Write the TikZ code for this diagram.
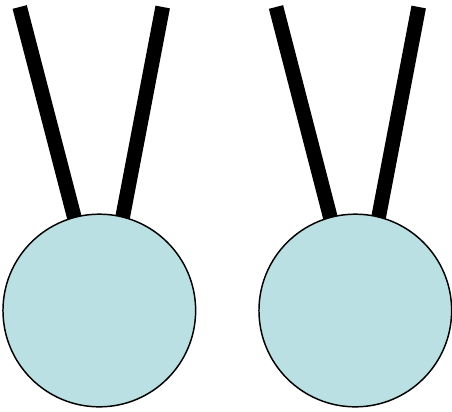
\documentclass[tikz,border=0pt]{standalone}
\usepackage{tikz}
\usetikzlibrary{backgrounds}
\definecolor{c1}{HTML}{BBE0E3}

\begin{document}
\begin{tikzpicture}[
    x=0.75pt, y=-0.75pt,
    ball/.style={circle, draw=black, line width=1.1pt, fill=c1, minimum size=144.5pt, inner sep=0pt},
    leaf/.style={line width=11pt, black, line cap=butt, shorten >=-8pt},
]
\useasboundingbox (0,0) rectangle (452,411);

% === BALLS with two leaves each ===
\foreach \i/\x/\xa/\xb in {1/99.3/19.7/162.7, 2/355.3/276/418.7}{
    % Ball
    \node[ball] (b\i) at (\x, 310.5) {};
    % Free ends at the top
    \coordinate (tl\i) at (\xa, 7);
    \coordinate (tr\i) at (\xb, 7);
    % Leaves behind the ball
    \begin{scope}[on background layer]
        \draw[leaf] (tl\i) -- (b\i.105);
        \draw[leaf] (tr\i) -- (b\i.76);
    \end{scope}
}

\end{tikzpicture}
\end{document}
